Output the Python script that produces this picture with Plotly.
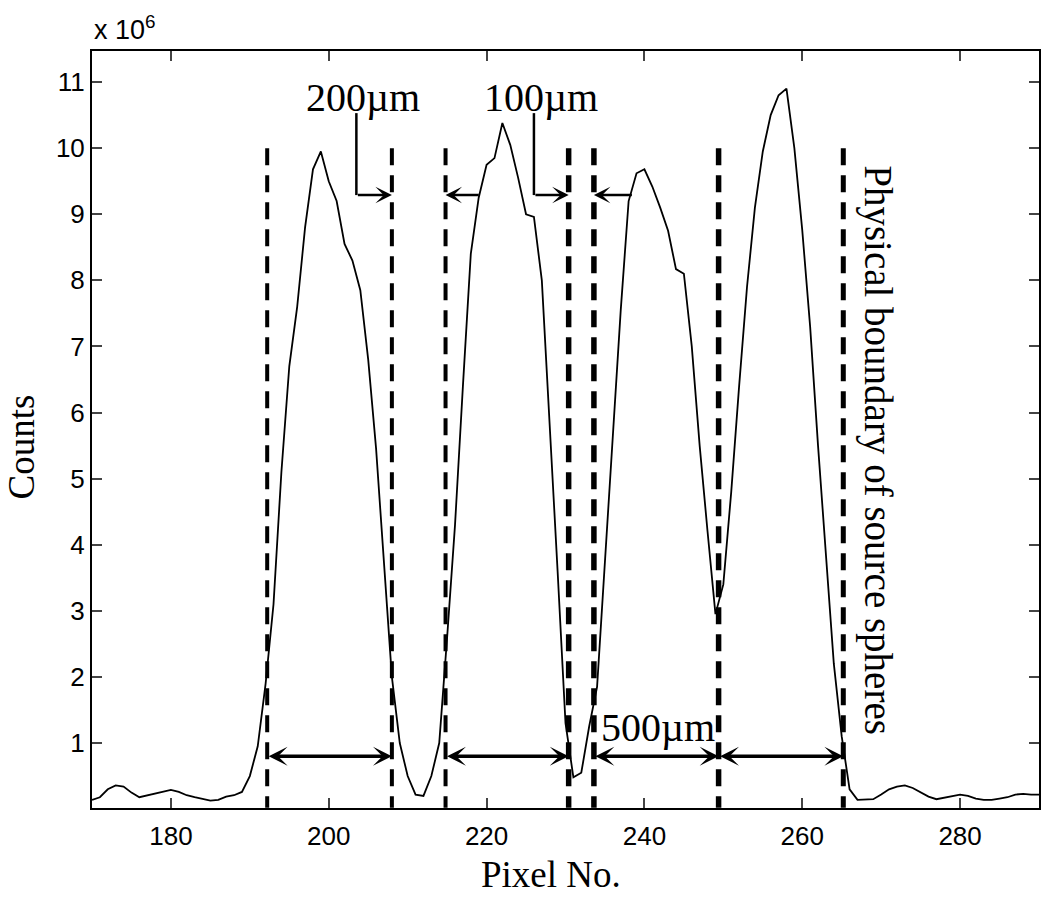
import plotly.graph_objects as go

# profile (counts in units of 1e6)
pixel = list(range(170, 291))
counts = [
    0.14, 0.18, 0.30, 0.36, 0.34, 0.25, 0.18, 0.21, 0.23, 0.27,
    0.29, 0.26, 0.21, 0.18, 0.15, 0.13, 0.14, 0.19, 0.21, 0.26,
    0.50, 0.95, 1.90, 3.10, 5.10, 6.70, 7.60, 8.80, 9.68, 9.95,
    9.50, 9.20, 8.55, 8.30, 7.85, 6.80, 5.45, 3.70, 2.00, 1.00,
    0.50, 0.22, 0.20, 0.50, 1.00, 2.60, 4.30, 6.40, 8.40, 9.25,
    9.75, 9.85, 10.38, 10.05, 9.55, 9.00, 8.96, 8.00, 5.85, 3.60,
    1.30, 0.48, 0.55, 1.25, 1.85, 3.70, 5.60, 7.55, 9.20, 9.62,
    9.68, 9.42, 9.10, 8.75, 8.17, 8.10, 7.00, 5.50, 4.20, 2.95,
    3.40, 4.80, 6.40, 7.90, 9.10, 9.95, 10.50, 10.80, 10.90, 10.00,
    8.76, 7.30, 5.50, 3.80, 2.20, 1.10, 0.30, 0.14, 0.14, 0.15,
    0.22, 0.30, 0.34, 0.36, 0.32, 0.26, 0.19, 0.15, 0.17, 0.20,
    0.22, 0.20, 0.16, 0.14, 0.14, 0.16, 0.18, 0.22, 0.23, 0.22,
    0.22,
]

# physical boundaries of the source spheres (pixel no.)
boundary_x = [192.2, 208.0, 214.8, 230.4, 233.6, 249.4, 265.2]
boundary_top = 10.0
# 500um spans between boundaries
span_pairs = [(0, 1), (2, 3), (4, 5), (5, 6)]
span_y = 0.8
span_label = "500µm"
# gap labels and their pointers
gap_labels = ["200µm", "100µm"]
gap_label_x = [204.3, 226.9]
gap_pointer_x = [203.5, 226.0]
gap_targets = [1, 3]
gap_left_from = [219.2, 238.6]
gap_left_targets = [2, 4]
pointer_y = 9.29
pointer_top = 10.53
side_text = "Physical boundary of source spheres"

x_ticks = [180, 200, 220, 240, 260, 280]
y_ticks = list(range(1, 12))

serif = "Liberation Serif, Times New Roman, serif"
sans = "Liberation Sans, Arial, sans-serif"

fig = go.Figure()
fig.add_trace(go.Scatter(x=pixel, y=counts, mode="lines",
                         line=dict(color="black", width=1.8), showlegend=False))

# dashed boundary lines
widths = [4, 4, 4, 5.5, 5.5, 5.5, 5]
for bx, w in zip(boundary_x, widths):
    fig.add_shape(type="line", xref="x", yref="y", x0=bx, x1=bx, y0=boundary_top, y1=0.02,
                  line=dict(color="black", width=w, dash="17px,10px"))

annotations = []
# double arrows
for a, b in span_pairs:
    annotations.append(dict(x=boundary_x[b], y=span_y, ax=boundary_x[a], ay=span_y,
                            xref="x", yref="y", axref="x", ayref="y", text="",
                            showarrow=True, arrowhead=3, startarrowhead=3, arrowside="end+start",
                            arrowsize=0.9, startarrowsize=0.9, arrowwidth=3.5, arrowcolor="black"))

# pointers to the gaps
for px, t in zip(gap_pointer_x, gap_targets):
    fig.add_shape(type="line", xref="x", yref="y", x0=px, x1=px, y0=pointer_top, y1=pointer_y,
                  line=dict(color="black", width=2.5))
    annotations.append(dict(x=boundary_x[t], y=pointer_y, ax=px, ay=pointer_y,
                            xref="x", yref="y", axref="x", ayref="y", text="",
                            showarrow=True, arrowhead=3, arrowsize=1.1, arrowwidth=2.5,
                            arrowcolor="black"))
for px, t in zip(gap_left_from, gap_left_targets):
    annotations.append(dict(x=boundary_x[t], y=pointer_y, ax=px, ay=pointer_y,
                            xref="x", yref="y", axref="x", ayref="y", text="",
                            showarrow=True, arrowhead=3, arrowsize=1.1, arrowwidth=2.5,
                            arrowcolor="black"))

for txt, lx in zip(gap_labels, gap_label_x):
    annotations.append(dict(x=lx, y=10.77, xref="x", yref="y", text=txt, showarrow=False,
                            font=dict(family=serif, size=40, color="black")))
annotations.append(dict(x=241.7, y=1.23, xref="x", yref="y", text=span_label, showarrow=False,
                        font=dict(family=serif, size=40, color="black")))
annotations.append(dict(x=269.6, y=5.43, xref="x", yref="y", text=side_text, showarrow=False,
                        textangle=90, font=dict(family=serif, size=39, color="black")))

# axis titles and multiplier
annotations.append(dict(x=0, y=0.5, xref="paper", yref="paper", xanchor="center", yanchor="middle",
                        xshift=-71, yshift=-18, text="Counts", textangle=-90, showarrow=False,
                        font=dict(family=serif, size=37, color="black")))
annotations.append(dict(x=0.5, y=0, xref="paper", yref="paper", xanchor="center", yanchor="middle",
                        xshift=-15, yshift=-66, text="Pixel No.", showarrow=False,
                        font=dict(family=serif, size=37, color="black")))
annotations.append(dict(x=0, y=1, xref="paper", yref="paper", xanchor="left", yanchor="bottom",
                        yshift=4, text="x 10<sup>6</sup>", showarrow=False,
                        font=dict(family=sans, size=27, color="black")))

fig.update_layout(
    width=1050, height=897,
    margin=dict(l=92, r=9, t=51, b=89),
    paper_bgcolor="white", plot_bgcolor="white",
    annotations=annotations,
    xaxis=dict(range=[170, 290], tickvals=x_ticks, ticks="inside", ticklen=10, tickwidth=1.5,
               mirror="ticks", showline=True, linecolor="black", linewidth=2, showgrid=False,
               zeroline=False, ticklabelstandoff=4,
               tickfont=dict(family=sans, size=26, color="black")),
    yaxis=dict(range=[0.017, 11.47], tickvals=y_ticks, ticks="inside", ticklen=10, tickwidth=1.5,
               mirror="ticks", showline=True, linecolor="black", linewidth=2, showgrid=False,
               zeroline=False, tickfont=dict(family=sans, size=26, color="black")),
)

# drop the default page margin so the figure fills the window, no toolbar
fig.write_html("out.html", config={"displayModeBar": False},
               post_script="document.body.style.margin = '0';")
